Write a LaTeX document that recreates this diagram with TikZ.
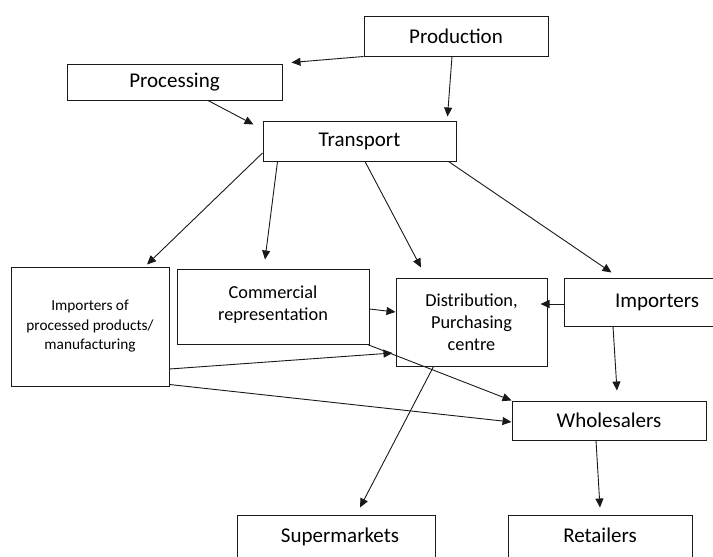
\documentclass[tikz,border=0pt]{standalone}
\usepackage{fontspec}
\setmainfont{Carlito}
\usetikzlibrary{arrows.meta}
\begin{document}
\begin{tikzpicture}[x=1pt,y=-1pt,
  box/.style={draw=black!90, line width=1pt, inner sep=0pt, align=center, rectangle},
  big/.style={font=\fontsize{21}{25}\selectfont},
  mid/.style={font=\fontsize{18.3}{22}\selectfont},
  small/.style={font=\fontsize{15.3}{19.5}\selectfont},
  arr/.style={draw=black!90, line width=0.9pt, -{Triangle[length=9pt,width=8pt]}}]
\useasboundingbox (0,0) rectangle (713,557);
\begin{scope}
\clip (0,0) rectangle (713,557);
\node[box,big,minimum width=184pt,minimum height=40pt] (prod) at (456,36) {Production};
\node[box,big,minimum width=215pt,minimum height=36pt] (proc) at (174.5,82) {Processing};
\node[box,big,minimum width=193pt,minimum height=40pt] (trans) at (359.5,141) {Transport};
\node[box,small,minimum width=158pt,minimum height=119pt] (imppp) at (90,326.5) {Importers of\\processed products/\\manufacturing};
\node[box,mid,minimum width=192pt,minimum height=75pt] (comm) at (273,306.5) {Commercial\\representation\\[-15pt]};
\node[box,mid,minimum width=151pt,minimum height=88pt] (dist) at (471.5,322) {Distribution,\\Purchasing\\centre};
\node[box,big,minimum width=186pt,minimum height=48pt] (imp) at (657,302) {Importers};
\node[box,big,minimum width=194pt,minimum height=39pt] (whole) at (609,420.5) {Wholesalers};
\node[box,big,minimum width=198pt,minimum height=44pt] (super) at (336,537) {\hspace*{8pt}Supermarkets};
\node[box,big,minimum width=184pt,minimum height=44pt] (ret) at (600,537) {\raisebox{4pt}{Retailers}};
\end{scope}
\draw[arr] (prod.south west) -- ([xshift=9pt,yshift=1pt]proc.north east);
\draw[arr] ([xshift=-4pt]prod.south) -- ([xshift=-9pt,yshift=4pt]trans.north east);
\draw[arr] ([xshift=33.5pt]proc.south) -- ([xshift=-9pt,yshift=-4pt]trans.north west);
\draw[arr] ([yshift=-12pt]trans.west) -- ([xshift=57pt,yshift=2pt]imppp.north);
\draw[arr] ([xshift=15pt]trans.south west) -- ([xshift=-8pt,yshift=9pt]comm.north);
\draw[arr] ([xshift=5.5pt]trans.south) -- ([xshift=-50.5pt,yshift=10pt]dist.north);
\draw[arr] ([xshift=-8pt]trans.south east) -- ([xshift=48pt,yshift=5pt]imp.north west);
\draw[arr] ([yshift=-2.5pt]comm.east) -- ([yshift=10pt]dist.west);
\draw[arr] ([yshift=-2pt]imp.west) -- ([xshift=-7pt,yshift=18pt]dist.east);
\draw[arr] ([yshift=-42.5pt]imppp.east) -- ([xshift=-3pt,yshift=-31pt]dist.west);
\draw[arr] ([xshift=-2pt]comm.south east) -- (whole.north west);
\draw[arr] ([yshift=2pt]imppp.south east) -- ([yshift=-1.5pt]whole.west);
\draw[arr] ([xshift=-44pt]imp.south) -- ([xshift=8pt,yshift=10pt]whole.north);
\draw[arr] ([xshift=38pt]dist.south west) -- ([xshift=24pt,yshift=7pt]super.north);
\draw[arr] ([xshift=-13pt]whole.south) -- ([yshift=7pt]ret.north);
\end{tikzpicture}
\end{document}
